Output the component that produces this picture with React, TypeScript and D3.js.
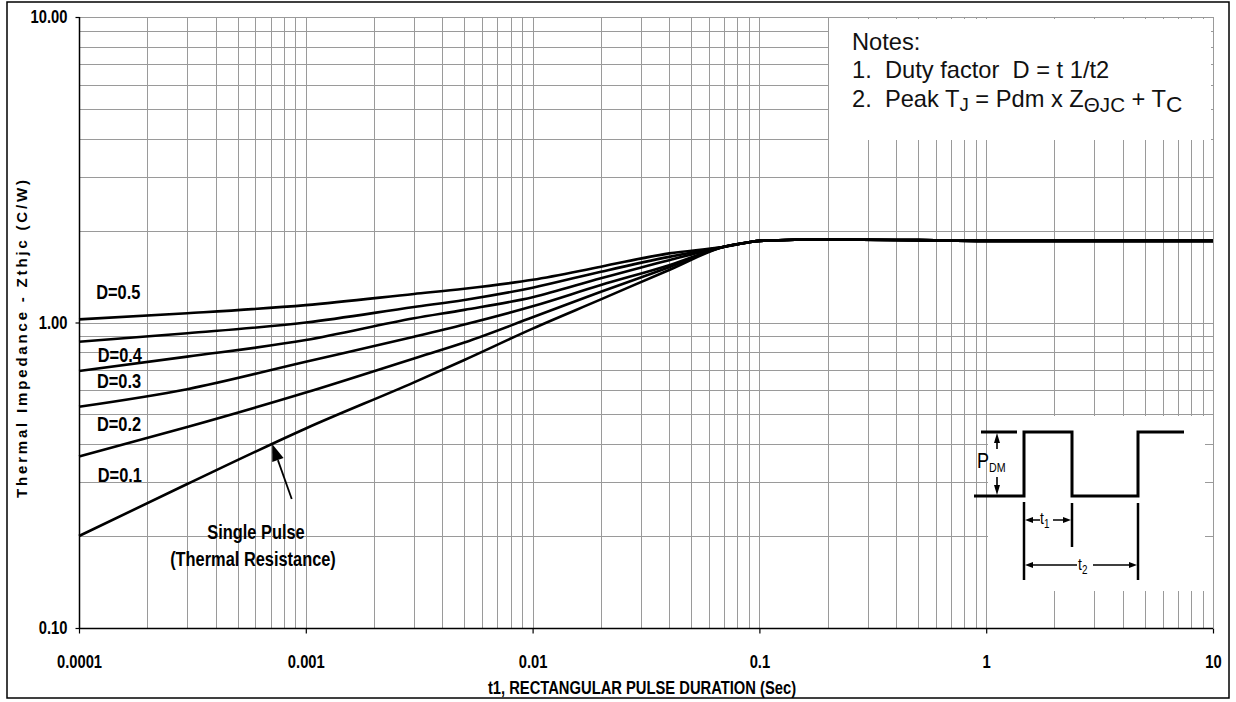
import React, { useEffect, useRef } from 'react';
import * as d3 from 'd3';

// Pulse durations (s), shared by all duty-factor curves
const durations = [0.0001, 0.0003, 0.001, 0.003, 0.005, 0.01, 0.02, 0.04, 0.07];
// Common tail once the curves have merged
const tailDurations = [0.09, 0.1, 0.2, 0.5, 1, 10];
const tailValues = [1.83, 1.85, 1.87, 1.86, 1.85, 1.85];

// Zthjc (C/W) per curve, top to bottom
const curveTop = [1.024, 1.072, 1.14, 1.24, 1.29, 1.38, 1.523, 1.684, 1.77];
const curve2 = [0.865, 0.922, 1.0, 1.124, 1.185, 1.3, 1.466, 1.64, 1.77];
const curve3 = [0.694, 0.773, 0.876, 1.032, 1.1, 1.21, 1.396, 1.6, 1.77];
const curve4 = [0.53, 0.605, 0.744, 0.898, 0.985, 1.13, 1.326, 1.54, 1.77];
const curve5 = [0.364, 0.455, 0.59, 0.763, 0.86, 1.04, 1.26, 1.517, 1.77];
const singlePulse = [0.2, 0.296, 0.45, 0.637, 0.754, 0.955, 1.19, 1.486, 1.77];

const xTickValues = [0.0001, 0.001, 0.01, 0.1, 1, 10];
const xTickLabels = ['0.0001', '0.001', '0.01', '0.1', '1', '10'];
const yTickValues = [0.1, 1, 10];
const yTickLabels = ['0.10', '1.00', '10.00'];

// Curve labels: [text, duration, value] of the label's baseline start
const curveLabels: [string, number, number][] = [
  ['D=0.5', 0.000119, 1.19],
  ['D=0.4', 0.000121, 0.744],
  ['D=0.3', 0.00012, 0.609],
  ['D=0.2', 0.00012, 0.442],
  ['D=0.1', 0.000121, 0.301],
];

const SANS = "'Liberation Sans', Arial, sans-serif";
const SQUEEZE = 0.82; // fake Arial Narrow by squeezing Liberation Sans
const NB = '\u00a0';

const App = () => {
  const ref = useRef<SVGSVGElement>(null);

  useEffect(() => {
    document.body.style.margin = '0';
    const svg = d3.select(ref.current);
    svg.selectAll('*').remove();

    const left = 79, right = 1213, top = 17, bottom = 628;
    const x = d3.scaleLog().domain([1e-4, 10]).range([left, right]);
    const y = d3.scaleLog().domain([0.1, 10]).range([bottom, top]);
    const cx = (v: number) => Math.round(x(v)) + 0.5;
    const cy = (v: number) => Math.round(y(v)) + 0.5;

    const narrow = (px: number, py: number, txt: string, size: number, anchor = 'start') =>
      svg.append('g').attr('transform', `translate(${px},${py}) scale(${SQUEEZE},1)`)
        .append('text')
        .attr('text-anchor', anchor)
        .attr('font-family', SANS).attr('font-weight', 'bold').attr('font-size', size)
        .attr('fill', '#000')
        .text(txt);

    // outer frame
    svg.append('rect')
      .attr('x', 7).attr('y', 2).attr('width', 1222).attr('height', 696)
      .attr('fill', '#fff').attr('stroke', '#000').attr('stroke-width', 1.5);

    // grid
    const grid = svg.append('g').attr('stroke', '#9a9a9a').attr('stroke-width', 1);
    grid.selectAll('.gx').data(x.ticks()).enter().append('line')
      .attr('x1', d => cx(d)).attr('x2', d => cx(d))
      .attr('y1', top).attr('y2', bottom);
    grid.selectAll('.gy').data(y.ticks()).enter().append('line')
      .attr('x1', left).attr('x2', right)
      .attr('y1', d => cy(d)).attr('y2', d => cy(d));

    // white boxes for notes and inset
    svg.append('rect').attr('x', 829).attr('y', 19).attr('width', 382).attr('height', 121).attr('fill', '#fff');
    svg.append('rect').attr('x', 988).attr('y', 416).attr('width', 217).attr('height', 175).attr('fill', '#fff');

    // curves
    const series = [curveTop, curve2, curve3, curve4, curve5, singlePulse].map(vals =>
      durations.map((t, i) => [t, vals[i]] as [number, number])
        .concat(tailDurations.map((t, i) => [t, tailValues[i]] as [number, number]))
    );
    const line = d3.line<[number, number]>()
      .x(d => x(d[0])).y(d => y(d[1]))
      .curve(d3.curveMonotoneX);
    svg.append('g').selectAll('path').data(series).enter().append('path')
      .attr('d', d => line(d))
      .attr('fill', 'none').attr('stroke', '#000').attr('stroke-width', 2.6)
      .attr('stroke-linejoin', 'round');

    // axes
    const yAxis = svg.append('g').attr('transform', `translate(${left + 0.5},0)`)
      .call(d3.axisLeft(y).tickValues(yTickValues).tickSize(4).tickPadding(8)
        .tickFormat((_, i) => yTickLabels[i]));
    const xAxis = svg.append('g').attr('transform', `translate(0,${bottom + 0.5})`)
      .call(d3.axisBottom(x).tickValues(xTickValues).tickSize(5).tickPadding(22)
        .tickFormat((_, i) => xTickLabels[i]));
    [yAxis, xAxis].forEach(a => {
      a.select('.domain').attr('stroke', '#000').attr('stroke-width', 1.5)
        .attr('d', a === yAxis ? `M0,${top}V${bottom}` : `M${left},0H${right}`);
      a.selectAll('.tick line').attr('stroke', '#000').attr('stroke-width', 1.2);
      a.selectAll('.tick text').attr('font-family', SANS).attr('font-weight', 'bold')
        .attr('fill', '#000').attr('transform', `scale(${SQUEEZE},1)`);
    });
    yAxis.selectAll('.tick text').attr('font-size', 18).attr('x', -12 / SQUEEZE);
    xAxis.selectAll('.tick text').attr('font-size', 18);

    // axis titles
    narrow(642, 694, 't1, RECTANGULAR PULSE DURATION (Sec)', 18, 'middle');
    svg.append('text')
      .attr('transform', 'translate(27,339) rotate(-90)')
      .attr('text-anchor', 'middle')
      .attr('font-family', SANS).attr('font-weight', 'bold').attr('font-size', 15)
      .attr('textLength', 318).attr('lengthAdjust', 'spacing')
      .text('Thermal Impedance - Zthjc (C/W)');

    // curve labels
    curveLabels.forEach(([txt, t, v]) => narrow(x(t), y(v), txt, 20));

    // single pulse annotation
    const tip: [number, number] = [x(0.000711), y(0.4)];
    const tail: [number, number] = [x(0.000867), y(0.2644)];
    const ang = Math.atan2(tip[1] - tail[1], tip[0] - tail[0]);
    const hl = 17, hw = 6;
    const base = [tip[0] - hl * Math.cos(ang), tip[1] - hl * Math.sin(ang)];
    svg.append('line')
      .attr('x1', tail[0]).attr('y1', tail[1]).attr('x2', base[0]).attr('y2', base[1])
      .attr('stroke', '#000').attr('stroke-width', 1.8);
    svg.append('path')
      .attr('d', `M${tip[0]},${tip[1]}L${base[0] + hw * Math.sin(ang)},${base[1] - hw * Math.cos(ang)}L${base[0] - hw * Math.sin(ang)},${base[1] + hw * Math.cos(ang)}Z`)
      .attr('fill', '#000');
    narrow(x(0.000603), y(0.1956), 'Single Pulse', 20, 'middle');
    narrow(x(0.000585), y(0.1596), '(Thermal Resistance)', 20, 'middle');

    // notes
    const notes = svg.append('g').attr('font-family', SANS).attr('font-size', 23).attr('fill', '#111')
      .attr('transform', 'translate(852,0) scale(1.03,1)');
    notes.append('text').attr('x', 0).attr('y', 50).text('Notes:');
    notes.append('text').attr('x', 0).attr('y', 78).text(`1.${NB} Duty factor ${NB}D = t 1/t2`);
    const n2 = notes.append('text').attr('x', 0).attr('y', 107);
    n2.append('tspan').text(`2.${NB} Peak T`);
    n2.append('tspan').attr('font-size', 18).attr('dy', 4).text('J');
    n2.append('tspan').attr('dy', -4).text(' = Pdm x Z');
    n2.append('tspan').attr('font-size', 20).attr('dy', 5).text('ΘJC');
    n2.append('tspan').attr('dy', -5).text(' + T');
    n2.append('tspan').attr('font-size', 22).attr('dy', 5).text('C');

    // inset pulse diagram
    const inset = svg.append('g').attr('stroke', '#000').attr('fill', 'none');
    inset.append('path').attr('d', 'M981,432H1017').attr('stroke-width', 3);
    inset.append('path').attr('d', 'M974,496H1024V432H1072V496H1138V432H1184').attr('stroke-width', 3);
    inset.append('path').attr('d', 'M1024,502V580M1072,503V547M1138,503V580').attr('stroke-width', 2.5);
    inset.append('path').attr('d', 'M997,440V449M997,477V488M1031,520H1040M1053,520H1064M1031,565H1077M1093,565H1131')
      .attr('stroke-width', 1.6);
    const heads = [
      'M997,433L994,443L1000,443Z', 'M997,495L994,485L1000,485Z',
      'M1025,520L1033,517L1033,523Z', 'M1071,520L1063,517L1063,523Z',
      'M1025,565L1033,562L1033,568Z', 'M1137,565L1129,562L1129,568Z',
    ];
    inset.selectAll('.head').data(heads).enter().append('path')
      .attr('d', d => d).attr('fill', '#000').attr('stroke', 'none');
    const lab = svg.append('g').attr('font-family', SANS).attr('fill', '#000');
    const p = lab.append('text').attr('transform', `translate(977,468) scale(${SQUEEZE},1)`).attr('font-size', 22);
    p.append('tspan').text('P');
    p.append('tspan').attr('font-size', 13).attr('dy', 4).text('DM');
    const t1 = lab.append('text').attr('transform', `translate(1040,524) scale(${SQUEEZE},1)`).attr('font-size', 17);
    t1.append('tspan').text('t');
    t1.append('tspan').attr('font-size', 12).attr('dy', 4).text('1');
    const t2 = lab.append('text').attr('transform', `translate(1078,570) scale(${SQUEEZE},1)`).attr('font-size', 17);
    t2.append('tspan').text('t');
    t2.append('tspan').attr('font-size', 12).attr('dy', 4).text('2');
  }, []);

  return <svg ref={ref} width={1236} height={702} style={{ display: 'block', background: '#fff' }} />;
};

export default App;
